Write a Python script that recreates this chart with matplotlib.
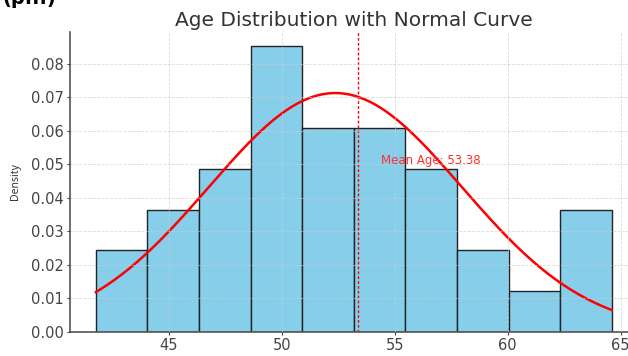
import matplotlib.pyplot as plt
import numpy as np

# histogram of 36 ages, 10 equal bins
bin_lo = 41.77
bin_hi = 64.60
counts = [2, 3, 4, 7, 5, 5, 4, 2, 1, 3]

# fitted normal curve and the reported mean
curve_mu = 52.37
curve_sigma = 5.60
mean_age = 53.38

edges = np.linspace(bin_lo, bin_hi, len(counts) + 1)
width = edges[1] - edges[0]
density = np.array(counts) / (sum(counts) * width)

fig = plt.figure(figsize=(6.28, 3.56), dpi=100)
ax = fig.add_axes([70 / 628, 24 / 356, 567.5 / 628, 300 / 356])

ax.hist(edges[:-1], bins=edges, weights=density, color='skyblue',
        edgecolor='#222222', linewidth=1.0)

x = np.linspace(bin_lo, bin_hi, 200)
pdf = np.exp(-0.5 * ((x - curve_mu) / curve_sigma) ** 2) / (curve_sigma * np.sqrt(2 * np.pi))
ax.plot(x, pdf, color='red', linewidth=1.8)

ax.axvline(mean_age, color='red', linestyle='--', linewidth=1.0, dashes=(2, 1.5))
ax.text(mean_age + 1, 0.05, f'Mean Age: {mean_age:.2f}', color='#ff3030', fontsize=8.5)

ax.grid(True, linestyle='--', color='#cccccc', linewidth=0.6, alpha=0.7)
ax.set_axisbelow(False)
for s in ['top', 'right']:
    ax.spines[s].set_visible(False)
for s in ['left', 'bottom']:
    ax.spines[s].set_color('#555555')
    ax.spines[s].set_linewidth(1.2)

ax.tick_params(colors='#444444', labelsize=10.5, length=2.5, pad=2)
ax.set_title('Age Distribution with Normal Curve', fontsize=14.5, color='#333333', pad=4)
ax.set_xlabel('Age', fontsize=10, color='#333333', labelpad=1)
ax.set_ylabel('Density', fontsize=7.5, color='#333333', family='Noto Sans', labelpad=7)

# heading of the page above, mostly cut off
fig.text(0.003, 1 - 3.5 / 356, '(p...)', fontsize=14, fontweight='bold',
         va='baseline', ha='left')

fig.savefig('out.png', dpi=100)
